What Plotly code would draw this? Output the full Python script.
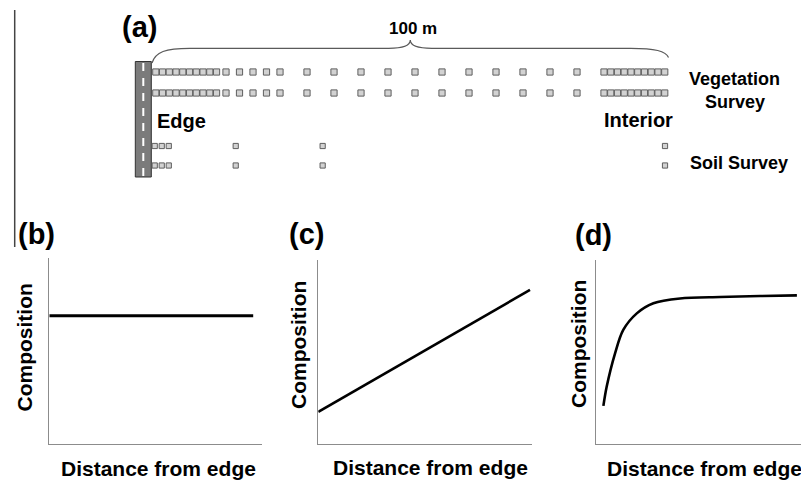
import plotly.graph_objects as go

W, H = 801, 481

# ---------------- data ----------------
# panel (a): plot positions along the transect (metres from road edge)
veg_edge_dense_m = [2.0, 3.25, 4.5, 5.75, 7.0, 8.25, 9.5, 10.75, 12.0, 13.25]
veg_spaced_m = [15, 17.5, 20, 22.5, 25, 30, 35, 40, 45, 50, 55, 60, 65, 70, 75, 80]
veg_interior_dense_m = [85.0, 86.25, 87.5, 88.75, 90.0, 91.25, 92.5, 93.75, 95.0, 96.25]
soil_m = [1.8, 3.1, 4.4, 16.8, 32.9, 96.3]
transect_label = "100 m"

# panels (b)-(d): schematic composition vs distance (0-10 units)
b_x = [0, 9.6]
b_y = [6.9, 6.9]
c_x = [0, 9.92]
c_y = [1.73, 8.37]
d_x = [0.36, 0.52, 0.93, 1.33, 1.99, 2.80, 4.10, 6.05, 8.0, 9.80]
d_y = [2.07, 3.11, 4.93, 6.20, 7.10, 7.65, 7.91, 7.99, 8.04, 8.08]

panel_letters = ["(a)", "(b)", "(c)", "(d)"]
xlabel = "Distance from edge"
ylabel = "Composition"

# ---------------- helpers ----------------
def PX(x):
    return x / W

def PY(y):
    return 1 - y / H

# panel (a) axis: metres on x, pixel-like rows on y
M0_PX, M_SCALE = 145.0, 5.4
a_xrange = [(0 - M0_PX) / M_SCALE, (W - M0_PX) / M_SCALE]

def m_of_px(px):
    return (px - M0_PX) / M_SCALE

ROW_V1, ROW_V2 = 72, 93
ROW_S1, ROW_S2 = 146, 165.5

FONT = "Liberation Sans, Arial, sans-serif"
SQ_FILL = "#d2d2d2"
SQ_LINE = "#5e5e5e"

fig = go.Figure()

def squares(xs, row, size):
    fig.add_trace(go.Scatter(
        x=xs, y=[row] * len(xs), mode="markers",
        marker=dict(symbol="square", size=size, color=SQ_FILL,
                    line=dict(color=SQ_LINE, width=1)),
        xaxis="x", yaxis="y", hoverinfo="skip", showlegend=False))

for row in (ROW_V1, ROW_V2):
    squares(veg_edge_dense_m, row, 6.2)
    squares(veg_spaced_m, row, 6.2)
    squares(veg_interior_dense_m, row, 6.2)
for row in (ROW_S1, ROW_S2):
    squares(soil_m, row, 5.2)

# panels b-d
line_traces = [(b_x, b_y, "x2", "y2", 3, "linear"),
               (c_x, c_y, "x3", "y3", 2.6, "linear"),
               (d_x, d_y, "x4", "y4", 2.6, "spline")]
for xs, ys, xa, ya, w, shp in line_traces:
    fig.add_trace(go.Scatter(x=xs, y=ys, mode="lines",
                             line=dict(color="black", width=w, shape=shp, smoothing=0.9),
                             xaxis=xa, yaxis=ya, hoverinfo="skip", showlegend=False))

shapes = []
# road
x_road0, x_road1 = m_of_px(135.3), m_of_px(151.3)
shapes.append(dict(type="rect", xref="x", yref="y", x0=x_road0, x1=x_road1, y0=61.5, y1=177,
                   fillcolor="#7b7b7b", line=dict(color="#333333", width=1), layer="below"))
shapes.append(dict(type="line", xref="x", yref="y", x0=(x_road0 + x_road1) / 2, x1=(x_road0 + x_road1) / 2,
                   y0=63, y1=176, line=dict(color="white", width=2, dash="8px,7px")))

# brace over transect
bx0 = veg_edge_dense_m[0] - 0.7
bx1 = veg_interior_dense_m[-1] + 0.7
bmid = (bx0 + bx1) / 2
yb, ypk = 48.3, 40
path = (f"M {bx0},63 C {bx0+0.6},52 {bx0+2.5},{yb} {bx0+7},{yb} "
        f"L {bmid-4},{yb} C {bmid-1},{yb} {bmid},{yb-3} {bmid},{ypk} "
        f"C {bmid},{yb-3} {bmid+1},{yb} {bmid+4},{yb} "
        f"L {bx1-7},{yb} C {bx1-2.5},{yb} {bx1-0.5},51 {bx1},57.5")
shapes.append(dict(type="path", xref="x", yref="y", path=path,
                   line=dict(color="#5a5a5a", width=1.2)))

# left separator line
shapes.append(dict(type="line", xref="paper", yref="paper", x0=PX(14.7), x1=PX(14.7),
                   y0=PY(10), y1=PY(247), line=dict(color="#444444", width=1.5)))

annotations = []

def text(t, x, y, size, angle=0, xanchor="center"):
    annotations.append(dict(text=t, x=PX(x), y=PY(y), xref="paper", yref="paper",
                            showarrow=False, xanchor=xanchor, yanchor="middle",
                            textangle=angle,
                            font=dict(family=FONT, size=size, color="black", weight="bold")))

text(panel_letters[0], 139, 27, 29)
text("<b>" + transect_label + "</b>", 412.5, 28.5, 17)
text("Edge", 181, 121, 20)
text("Interior", 638.7, 120, 20)
text("Vegetation", 734, 79, 18)
text("Survey", 735, 102, 18)
text("Soil Survey", 738.5, 163, 18)

text(panel_letters[1], 36, 234, 29)
text(panel_letters[2], 306, 234, 29)
text(panel_letters[3], 593, 234.5, 29)

text(ylabel, 24, 347.5, 21, angle=-90)
text(ylabel, 298, 345, 21, angle=-90)
text(ylabel, 578, 344, 21, angle=-90)
text(xlabel, 158, 468, 21)
text(xlabel, 430.5, 467.5, 21)
text(xlabel, 704, 468, 21)

hidden = dict(visible=False, fixedrange=True)

def panel_axes(x0, x1, y0, y1):
    common = dict(showgrid=False, zeroline=False, showticklabels=False, ticks="",
                  showline=True, linecolor="#8c8c8c", linewidth=1.3, fixedrange=True,
                  range=[0, 10])
    return (dict(domain=[PX(x0), PX(x1)], **common),
            dict(domain=[PY(y1), PY(y0)], **common))

xb, yb_ = panel_axes(49.3, 261.7, 258, 444)
xc, yc = panel_axes(318.3, 531.7, 260, 443.5)
xd, yd = panel_axes(596, 801, 260, 444)

fig.update_layout(
    width=W, height=H, margin=dict(l=0, r=0, t=0, b=0),
    paper_bgcolor="white", plot_bgcolor="rgba(0,0,0,0)",
    xaxis=dict(domain=[0, 1], range=a_xrange, anchor="y", **hidden),
    yaxis=dict(domain=[0, 1], range=[H, 0], anchor="x", **hidden),
    xaxis2=dict(anchor="y2", **xb), yaxis2=dict(anchor="x2", **yb_),
    xaxis3=dict(anchor="y3", **xc), yaxis3=dict(anchor="x3", **yc),
    xaxis4=dict(anchor="y4", **xd), yaxis4=dict(anchor="x4", **yd),
    shapes=shapes, annotations=annotations, showlegend=False,
)

fig.write_html("out.html", config={"displayModeBar": False})
